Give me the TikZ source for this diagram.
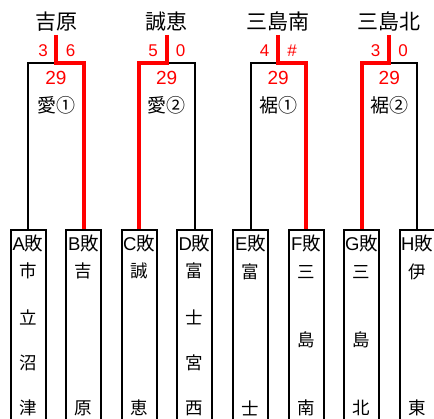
\documentclass[tikz,border=0pt]{standalone}
\usepackage{fontspec}
\setmainfont{Noto Sans CJK JP}
\newfontfamily\latf{Liberation Sans}
\definecolor{winred}{RGB}{255,0,0}
\tikzset{
  blk/.style={draw=black,line width=2pt},
  win/.style={draw=winred,line width=4pt},
  teambox/.style={draw=black,line width=2pt,minimum width=35pt,minimum height=200pt,anchor=north,inner sep=0pt},
  team/.style={font=\fontsize{21}{21}\selectfont,inner sep=0pt},
  score/.style={text=winred,font=\latf\fontsize{17}{17}\selectfont,inner sep=0pt},
  date/.style={text=winred,font=\latf\fontsize{19}{19}\selectfont,inner sep=0pt},
  venue/.style={font=\fontsize{19}{19}\selectfont,inner sep=0pt},
  lab/.style={font=\fontsize{18.5}{18.5}\selectfont,inner sep=0pt},
  ch/.style={font=\fontsize{17.5}{17.5}\selectfont,inner sep=0pt}
}
\begin{document}
\begin{tikzpicture}[x=1pt,y=-1pt]
\useasboundingbox (0,0) rectangle (434,419);
\clip (0,0) rectangle (434,419);
% bottom boxes
\node[teambox] (A) at (28,229) {};
\node[teambox] (B) at (83.5,229) {};
\node[teambox] (C) at (139,229) {};
\node[teambox] (D) at (194.5,229) {};
\node[teambox] (E) at (250.5,229) {};
\node[teambox] (F) at (306,229) {};
\node[teambox] (G) at (361.5,229) {};
\node[teambox] (H) at (417,229) {};
% labels in boxes
\node[lab] (Al) at (28,243) {{\latf A}敗};
\node[lab] (Bl) at (83.5,243) {{\latf B}敗};
\node[lab] (Cl) at (139,243) {{\latf C}敗};
\node[lab] (Dl) at (194.5,243) {{\latf D}敗};
\node[lab] (El) at (250.5,243) {{\latf E}敗};
\node[lab] (Fl) at (306,243) {{\latf F}敗};
\node[lab] (Gl) at (361.5,243) {{\latf G}敗};
\node[lab] (Hl) at (417,243) {{\latf H}敗};
\node[ch] (A1) at (28,271) {市};
\node[ch] (A2) at (28,317) {立};
\node[ch] (A3) at (28,363) {沼};
\node[ch] (A4) at (28,408) {津};
\node[ch] (B1) at (83.5,271) {吉};
\node[ch] (B2) at (83.5,408) {原};
\node[ch] (C1) at (139,271) {誠};
\node[ch] (C2) at (139,408) {恵};
\node[ch] (D1) at (194.5,271) {富};
\node[ch] (D2) at (194.5,317) {士};
\node[ch] (D3) at (194.5,363) {宮};
\node[ch] (D4) at (194.5,408) {西};
\node[ch] (E1) at (250.5,272) {富};
\node[ch] (E2) at (250.5,408) {士};
\node[ch] (F1) at (306,272) {三};
\node[ch] (F2) at (306,340) {島};
\node[ch] (F3) at (306,408) {南};
\node[ch] (G1) at (361.5,272) {三};
\node[ch] (G2) at (361.5,340) {島};
\node[ch] (G3) at (361.5,408) {北};
\node[ch] (H1) at (417,272) {伊};
\node[ch] (H2) at (417,408) {東};
% winners
\node[team] (W1) at (56,22) {吉原};
\node[team] (W2) at (166.75,22) {誠恵};
\node[team] (W3) at (278.25,22) {三島南};
\node[team] (W4) at (389.25,22) {三島北};
% scores
\node[score] (S1a) at (43,51) {3};
\node[score] (S1b) at (70.5,51) {6};
\node[score] (S2a) at (153,51) {5};
\node[score] (S2b) at (180.5,51) {0};
\node[score] (S3a) at (264.5,51) {4};
\node[score] (S3b) at (292,51) {\#};
\node[score] (S4a) at (375.5,51) {3};
\node[score] (S4b) at (403,51) {0};
% dates and venues
\node[date] (D29a) at (56,78) {29};
\node[date] (D29b) at (166.75,78) {29};
\node[date] (D29c) at (278.25,78) {29};
\node[date] (D29d) at (389.25,78) {29};
\node[venue] (V1) at (56,105) {愛①};
\node[venue] (V2) at (166.75,105) {愛②};
\node[venue] (V3) at (278.25,105) {裾①};
\node[venue] (V4) at (389.25,105) {裾②};
% bracket coordinates
\coordinate (t1) at (56,35);
\coordinate (t2) at (166.75,35);
\coordinate (t3) at (278.25,35);
\coordinate (t4) at (389.25,35);
\coordinate (m1) at (56,63);
\coordinate (m2) at (166.75,63);
\coordinate (m3) at (278.25,63);
\coordinate (m4) at (389.25,63);
% losers (black)
\draw[blk] (m1) -| (A.north);
\draw[blk] (m2) -| (D.north);
\draw[blk] (m3) -| (E.north);
\draw[blk] (m4) -| (H.north);
% winners (red)
\draw[win] (t1) -- (m1) -| (B.north);
\draw[win] (t2) -- (m2) -| (C.north);
\draw[win] (t3) -- (m3) -| (F.north);
\draw[win] (t4) -- (m4) -| (G.north);
\end{tikzpicture}
\end{document}
